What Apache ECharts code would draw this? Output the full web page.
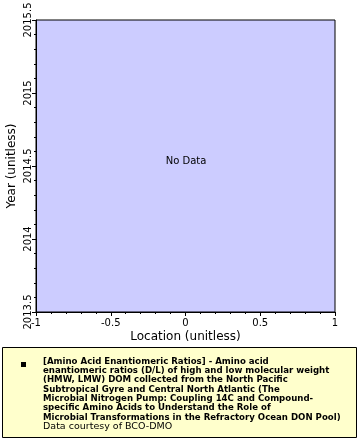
<!DOCTYPE html>
<html><head><meta charset="utf-8">
<script src="https://cdn.jsdelivr.net/npm/echarts@6/dist/echarts.min.js"></script>
<style>html,body{margin:0;padding:0;background:#fff}#c{width:360px;height:440px}</style>
</head><body><div id="c"></div>
<script>
const xTicks = [-1, -0.5, 0, 0.5, 1];
const yTicks = [2013.5, 2014, 2014.5, 2015, 2015.5];
const seriesData = []; // no data
const xName = 'Location (unitless)';
const yName = 'Year (unitless)';
const noDataText = 'No Data';
const legendLines = [
  '[Amino Acid Enantiomeric Ratios] - Amino acid',
  'enantiomeric ratios (D/L) of high and low molecular weight',
  '(HMW, LMW) DOM collected from the North Pacific',
  'Subtropical Gyre and Central North Atlantic (The',
  'Microbial Nitrogen Pump: Coupling 14C and Compound-',
  'specific Amino Acids to Understand the Role of',
  'Microbial Transformations in the Refractory Ocean DON Pool)'
];
const courtesy = 'Data courtesy of BCO-DMO';

const chart = echarts.init(document.getElementById('c'));
const F = 'DejaVu Sans';
chart.setOption({
  animation: false,
  grid: {left: 36, right: 25, top: 20, bottom: 128, containLabel: false, outerBoundsMode: 'none', show: true, backgroundColor: '#ccccff', borderColor: '#000', borderWidth: 1},
  xAxis: {
    type: 'value', min: xTicks[0], max: xTicks[xTicks.length-1], interval: 0.5,
    name: xName, nameLocation: 'middle', nameGap: 19, nameMoveOverlap: false,
    nameTextStyle: {fontFamily: F, fontSize: 12, color: '#000'},
    axisLine: {onZero: false, lineStyle: {color: '#000'}},
    axisTick: {length: 4, lineStyle: {color: '#000'}},
    minorTick: {show: true, splitNumber: 5, length: 2, lineStyle: {color: '#000'}},
    splitLine: {show: false},
    axisLabel: {fontFamily: F, fontSize: 10, color: '#000', margin: 6, formatter: v => String(v)}
  },
  yAxis: {
    type: 'value', min: yTicks[0], max: yTicks[yTicks.length-1], interval: 0.5,
    name: yName, nameLocation: 'middle', nameGap: 18, nameMoveOverlap: false,
    nameTextStyle: {fontFamily: F, fontSize: 12, color: '#000'},
    axisLine: {show: true, onZero: false, lineStyle: {color: '#000'}},
    axisTick: {show: true, length: 4, lineStyle: {color: '#000'}},
    minorTick: {show: true, splitNumber: 5, length: 2, lineStyle: {color: '#000'}},
    splitLine: {show: false},
    axisLabel: {fontFamily: F, fontSize: 10, color: '#000', rotate: 90, margin: 3, formatter: v => String(v)}
  },
  series: [{type: 'scatter', data: seriesData}],
  graphic: [
    {type: 'text', style: {x: 186, y: 161, text: noDataText, align: 'center', verticalAlign: 'middle', fontFamily: F, fontSize: 10, fill: '#000'}},
    {type: 'rect', shape: {x: 2.5, y: 347.5, width: 354, height: 90}, style: {fill: '#ffffcc', stroke: '#000', lineWidth: 1}},
    {type: 'rect', shape: {x: 21, y: 362, width: 5, height: 5}, style: {fill: '#000'}},
    {type: 'text', style: {x: 43, y: 357, text: legendLines.join('\n'), fontFamily: F, fontWeight: 'bold', fontSize: 8.6, lineHeight: 9.3, fill: '#000'}},
    {type: 'text', style: {x: 43, y: 422, text: courtesy, fontFamily: F, fontSize: 9.5, lineHeight: 9.5, fill: '#000'}}
  ]
});
</script></body></html>
